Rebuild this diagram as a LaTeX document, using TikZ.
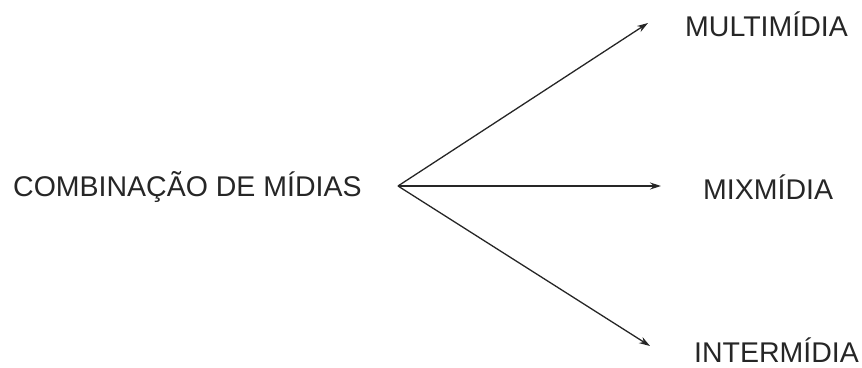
\documentclass[tikz,border=0pt]{standalone}
\usepackage{fontspec}
\setmainfont{Liberation Sans}
\usetikzlibrary{arrows.meta}
\definecolor{txt}{HTML}{262626}
\tikzset{
  lbl/.style={anchor=base west, inner sep=0pt, text=txt, font=\fontsize{28.5}{30}\selectfont},
  conn/.style={line width=1.3pt, draw=txt, -{Stealth[length=11pt,width=7pt]}}
}
\begin{document}
\begin{tikzpicture}[x=1pt,y=1pt]
\useasboundingbox (0,0) rectangle (862,367);
\node[lbl] (src) at (13,170) {COMBINAÇÃO DE MÍDIAS};
\node[lbl] (multi) at (685,330.5) {MULTIMÍDIA};
\node[lbl] (mix) at (703,167.5) {MIXMÍDIA};
\node[lbl] (inter) at (694,5) {INTERMÍDIA};
\coordinate (o) at (398,181);
\coordinate (t1) at (648,344);
\coordinate (t2) at (661,181);
\coordinate (t3) at (650,21);
\draw[conn] (o) -- (t1);
\draw[conn] (o) -- (t2);
\draw[conn] (o) -- (t3);
\end{tikzpicture}
\end{document}
